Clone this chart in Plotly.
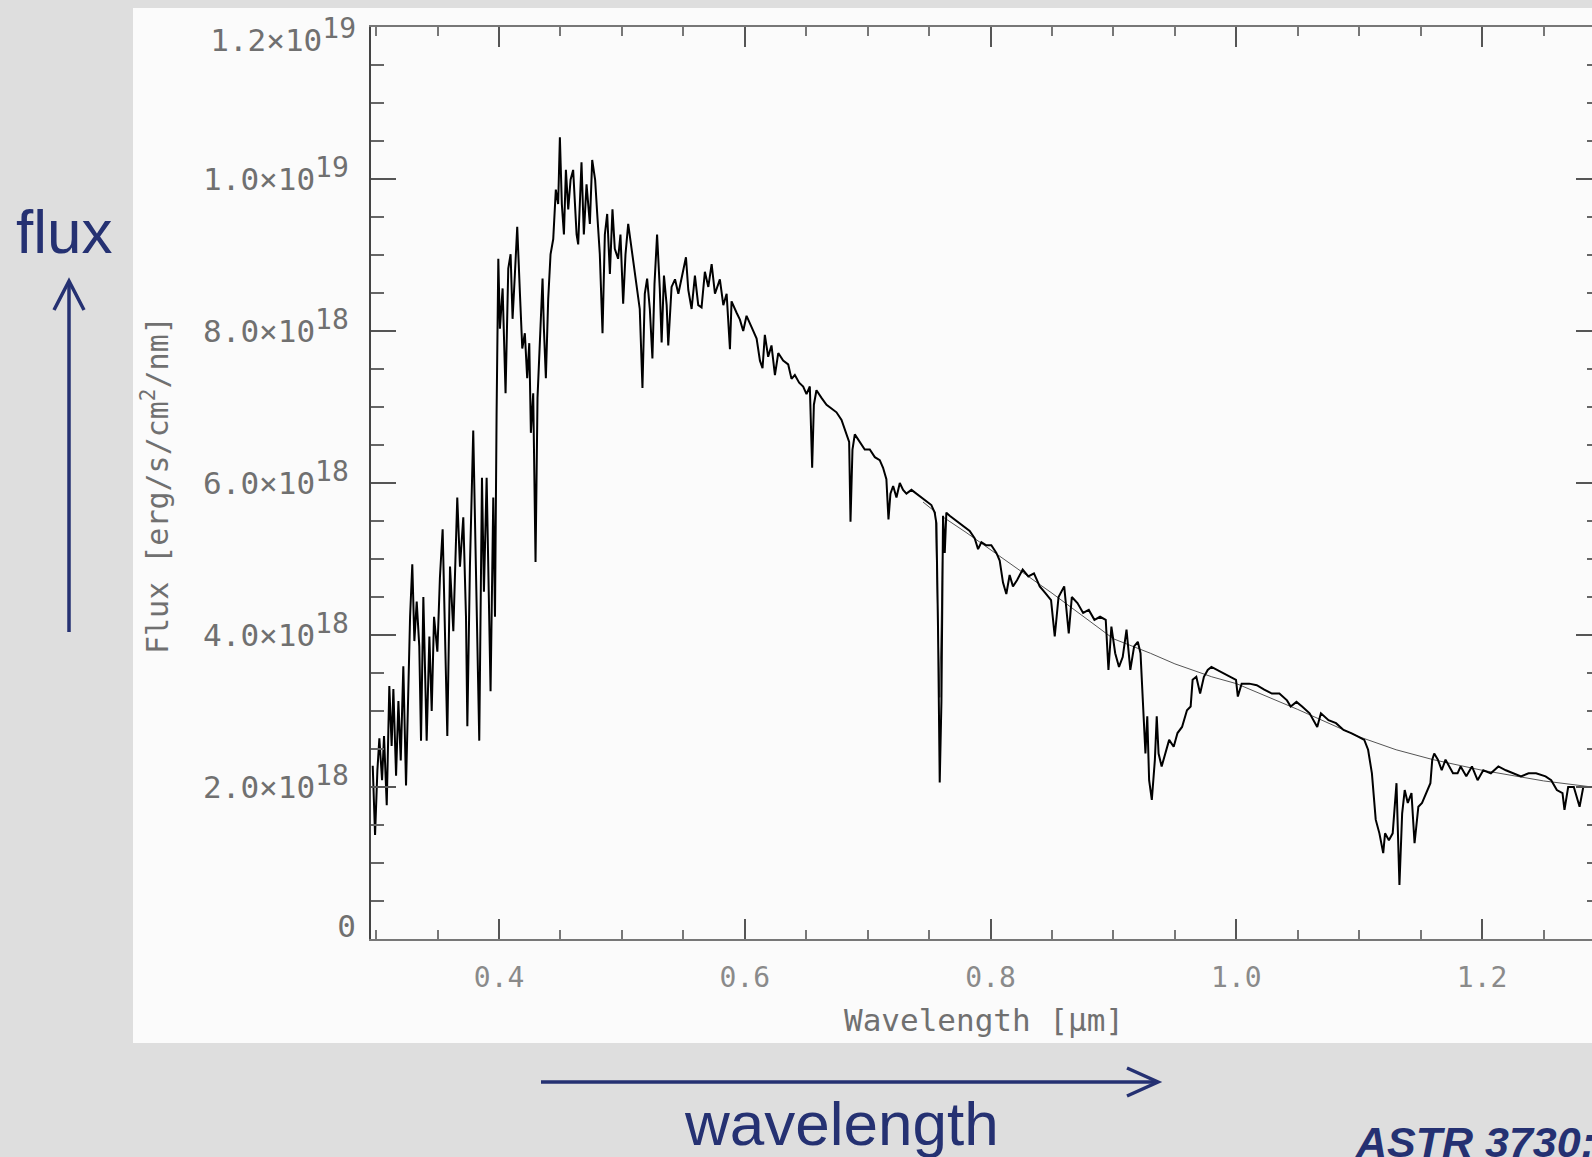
import plotly.graph_objects as go

# ---------------- data ----------------
wavelength_um = [
    0.2972, 0.2991, 0.3010, 0.3026, 0.3048, 0.3064, 0.3086, 0.3107, 0.3126, 0.3140,
    0.3162, 0.3181, 0.3200, 0.3221, 0.3243, 0.3262, 0.3276, 0.3294, 0.3311, 0.3330,
    0.3351, 0.3365, 0.3384, 0.3411, 0.3433, 0.3452, 0.3471, 0.3498, 0.3519, 0.3541,
    0.3560, 0.3579, 0.3601, 0.3628, 0.3660, 0.3682, 0.3709, 0.3731, 0.3742, 0.3763,
    0.3790, 0.3818, 0.3839, 0.3861, 0.3877, 0.3899, 0.3912, 0.3931, 0.3953, 0.3967,
    0.3980, 0.3994, 0.4007, 0.4029, 0.4053, 0.4075, 0.4094, 0.4110, 0.4129, 0.4148,
    0.4170, 0.4189, 0.4210, 0.4229, 0.4246, 0.4259, 0.4278, 0.4297, 0.4313, 0.4332,
    0.4354, 0.4365, 0.4381, 0.4400, 0.4419, 0.4441, 0.4462, 0.4481, 0.4495, 0.4511,
    0.4528, 0.4544, 0.4563, 0.4582, 0.4603, 0.4631, 0.4644, 0.4671, 0.4690, 0.4712,
    0.4739, 0.4758, 0.4782, 0.4799, 0.4820, 0.4842, 0.4861, 0.4880, 0.4902, 0.4923,
    0.4942, 0.4969, 0.4988, 0.5010, 0.5029, 0.5051, 0.5078, 0.5105, 0.5124, 0.5145,
    0.5167, 0.5186, 0.5205, 0.5227, 0.5248, 0.5265, 0.5286, 0.5308,
    0.5323, 0.5342, 0.5364, 0.5377, 0.5404, 0.5432, 0.5459, 0.5486, 0.5521, 0.5540,
    0.5567, 0.5594, 0.5621, 0.5648, 0.5675, 0.5703, 0.5730, 0.5757, 0.5797, 0.5825,
    0.5852, 0.5879, 0.5892, 0.5933, 0.5960, 0.5987, 0.6014, 0.6055, 0.6096, 0.6123,
    0.6144, 0.6163, 0.6190, 0.6217, 0.6245, 0.6272, 0.6312, 0.6353, 0.6380, 0.6407,
    0.6442, 0.6475, 0.6502, 0.6529, 0.6548, 0.6562, 0.6583, 0.6624, 0.6665, 0.6705,
    0.6746, 0.6787, 0.6827, 0.6849, 0.6860, 0.6876, 0.6895, 0.6936, 0.6976, 0.7017,
    0.7058, 0.7098, 0.7125, 0.7152, 0.7169, 0.7185, 0.7207, 0.7234, 0.7261, 0.7288,
    0.7315, 0.7356, 0.7396, 0.7437, 0.7478, 0.7518, 0.7545, 0.7559, 0.7572, 0.7586,
    0.7600, 0.7613, 0.7627, 0.7640, 0.7667, 0.7708, 0.7749, 0.7789, 0.7830, 0.7871,
    0.7898, 0.7925, 0.7965, 0.8006, 0.8047, 0.8074, 0.8101, 0.8128, 0.8155, 0.8182,
    0.8215, 0.8261, 0.8307, 0.8353, 0.8400, 0.8446, 0.8492, 0.8522, 0.8553, 0.8599,
    0.8636, 0.8661, 0.8707, 0.8753, 0.8799, 0.8845, 0.8891, 0.8937, 0.8959, 0.8983,
    0.9014, 0.9045, 0.9075, 0.9106, 0.9137, 0.9168, 0.9198, 0.9220, 0.9244, 0.9260,
    0.9275, 0.9290, 0.9312, 0.9337, 0.9352, 0.9367, 0.9392, 0.9422, 0.9453, 0.9490,
    0.9521, 0.9558, 0.9598, 0.9628, 0.9644, 0.9674, 0.9705, 0.9736, 0.9767, 0.9797,
    0.9843, 0.9889, 0.9951, 0.9997, 1.0012, 1.0043, 1.0105, 1.0166, 1.0227, 1.0289,
    1.0350, 1.0412, 1.0442, 1.0489, 1.0535, 1.0596, 1.0658, 1.0688, 1.0750, 1.0811,
    1.0872, 1.0934, 1.0995, 1.1041, 1.1072, 1.1103, 1.1134, 1.1164, 1.1195, 1.1210,
    1.1241, 1.1272, 1.1303, 1.1327, 1.1349, 1.1370, 1.1395, 1.1425, 1.1450, 1.1481,
    1.1511, 1.1542, 1.1579, 1.1594, 1.1610, 1.1640, 1.1671, 1.1702, 1.1733, 1.1763,
    1.1800, 1.1825, 1.1871, 1.1917, 1.1963, 1.2009, 1.2071, 1.2132, 1.2193, 1.2255,
    1.2316, 1.2378, 1.2439, 1.2516, 1.2562, 1.2608, 1.2654, 1.2670, 1.2700, 1.2746,
    1.2793, 1.2823, 1.2869, 1.2894,
]
flux_1e18 = [
    2.28, 1.37, 2.22, 2.64, 2.09, 2.67, 1.76, 3.33, 2.54, 3.29,
    2.15, 3.13, 2.35, 3.59, 2.02, 3.52, 4.24, 4.93, 3.92, 4.44,
    3.85, 2.61, 4.50, 2.61, 3.98, 3.00, 4.24, 3.78, 4.76, 5.39,
    3.85, 2.67, 4.90, 4.05, 5.81, 4.90, 5.55, 4.24, 2.80, 4.90,
    6.69, 4.24, 2.61, 6.07, 4.57, 6.07, 4.90, 3.26, 5.81, 4.24,
    6.92, 8.95, 8.03, 8.56, 7.18, 8.82, 9.01, 8.16, 8.75, 9.37,
    8.49, 7.77, 7.97, 7.38, 7.84, 6.66, 7.18, 4.96, 7.12, 7.90,
    8.69, 8.03, 7.38, 8.42, 9.01, 9.21, 9.86, 9.67, 10.55, 9.67,
    9.27, 10.12, 9.60, 9.99, 10.12, 9.27, 9.14, 10.22, 9.27, 9.93,
    9.41, 10.25, 9.99, 9.54, 9.01, 7.97, 9.27, 9.54, 8.75, 9.60,
    9.08, 8.95, 9.27, 8.36, 9.01, 9.41, 9.08, 8.82, 8.56, 8.29,
    7.25, 8.49, 8.69, 8.29, 7.64, 8.62, 9.27, 8.56,
    7.85, 8.73, 8.34, 7.81, 8.58, 8.68, 8.49, 8.68, 8.97, 8.54,
    8.29, 8.73, 8.34, 8.31, 8.78, 8.58, 8.88, 8.49, 8.68, 8.34,
    8.49, 7.76, 8.39, 8.24, 8.15, 8.00, 8.20, 8.05, 7.90, 7.61,
    7.51, 7.95, 7.66, 7.81, 7.42, 7.71, 7.61, 7.56, 7.37, 7.42,
    7.32, 7.27, 7.17, 7.27, 6.20, 7.03, 7.22, 7.12, 7.03, 6.98,
    6.93, 6.83, 6.64, 6.54, 5.49, 6.44, 6.64, 6.54, 6.44, 6.44,
    6.34, 6.30, 6.20, 6.05, 5.52, 5.86, 5.96, 5.81, 6.00, 5.91,
    5.86, 5.91, 5.86, 5.81, 5.76, 5.71, 5.61, 5.47, 4.11, 2.06,
    3.13, 5.57, 5.08, 5.61, 5.57, 5.52, 5.47, 5.42, 5.37, 5.27,
    5.13, 5.22, 5.18, 5.18, 5.08, 4.98, 4.69, 4.54, 4.79, 4.64,
    4.72, 4.86, 4.77, 4.81, 4.64, 4.55, 4.46, 3.98, 4.50, 4.64,
    4.02, 4.50, 4.42, 4.29, 4.33, 4.20, 4.24, 4.20, 3.54, 4.11,
    3.76, 3.58, 3.71, 4.07, 3.54, 3.85, 3.91, 3.76, 2.97, 2.44,
    2.93, 2.09, 1.83, 2.36, 2.93, 2.44, 2.27, 2.44, 2.62, 2.53,
    2.71, 2.79, 3.01, 3.06, 3.41, 3.45, 3.23, 3.45, 3.54, 3.58,
    3.54, 3.50, 3.45, 3.41, 3.19, 3.36, 3.36, 3.34, 3.28, 3.23,
    3.23, 3.14, 3.06, 3.12, 3.06, 2.97, 2.79, 2.97, 2.88, 2.84,
    2.75, 2.71, 2.66, 2.62, 2.49, 2.18, 1.57, 1.39, 1.13, 1.39,
    1.30, 1.39, 2.05, 0.71, 1.65, 1.96, 1.79, 1.92, 1.26, 1.74,
    1.79, 1.92, 2.05, 2.36, 2.44, 2.36, 2.22, 2.36, 2.27, 2.18,
    2.18, 2.27, 2.14, 2.27, 2.09, 2.22, 2.18, 2.27, 2.22, 2.18,
    2.14, 2.18, 2.18, 2.14, 2.09, 1.96, 1.92, 1.70, 2.00, 2.00,
    1.74, 2.00, 2.00, 2.00,
]
# thin second spectrum bridging the telluric bands
model_wavelength_um = [0.745, 0.755, 0.7586, 0.7615, 0.78, 0.80, 0.85, 0.90, 0.93,
                       0.95, 0.98, 1.00, 1.05, 1.10, 1.13, 1.16, 1.20, 1.25, 1.2894]
model_flux_1e18 = [5.75, 5.62, 3.18, 5.55, 5.35, 5.12, 4.55, 3.95, 3.76,
                   3.62, 3.45, 3.36, 3.02, 2.66, 2.49, 2.36, 2.22, 2.08, 2.00]

x_tick_vals = [0.4, 0.6, 0.8, 1.0, 1.2]
x_tick_text = ["0.4", "0.6", "0.8", "1.0", "1.2"]
y_major_vals_1e18 = [0, 2, 4, 6, 8, 10, 12]
SUP = "<sup><span style='font-size:28px'>{}</span></sup>"
y_tick_text = ["2.0×10" + SUP.format(18), "4.0×10" + SUP.format(18),
               "6.0×10" + SUP.format(18), "8.0×10" + SUP.format(18),
               "1.0×10" + SUP.format(19)]
y_top_label = "1.2×10" + SUP.format(19)
y_zero_label = "0"
x_title = "Wavelength [μm]"
y_title = "Flux [erg/s/cm<sup>2</sup>/nm]"

SCALE = 1e18
X_RANGE = [0.2958, 1.2894]
Y_RANGE = [0, 12 * SCALE]

# ---------------- layout geometry (pixels) ----------------
W, H = 1592, 1157
PL, PR, PT, PB = 371, 1592, 27, 939
PX_PER_1E18 = (PB - PT) / 12.0


def fx(p):
    return (p - PL) / (PR - PL)


def fy(p):
    return (PB - p) / (PB - PT)


NAVY = "#253172"
TICKC = "#707070"
FONT = "Liberation Sans, Arial, sans-serif"
MONO = "DejaVu Sans Mono, monospace"

fig = go.Figure()
fig.add_trace(go.Scatter(
    x=model_wavelength_um, y=[v * SCALE for v in model_flux_1e18],
    mode="lines", line=dict(color="#555555", width=1), hoverinfo="skip",
    showlegend=False))
fig.add_trace(go.Scatter(
    x=wavelength_um, y=[v * SCALE for v in flux_1e18],
    mode="lines", line=dict(color="black", width=2),
    showlegend=False))

axis_common = dict(showgrid=False, zeroline=False, automargin=False)

# label positions: the top label sits 13 px below its tick, the "0" 13 px above
top_label_pos = (12 - 13 / PX_PER_1E18) * SCALE
zero_label_pos = (13 / PX_PER_1E18) * SCALE

fig.update_layout(
    width=W, height=H,
    margin=dict(l=PL, r=W - PR, t=PT, b=H - PB, pad=0),
    paper_bgcolor="#dedede",
    plot_bgcolor="#fbfbfb",
    showlegend=False,
    font=dict(family=MONO, color=TICKC),
    xaxis=dict(
        **axis_common, range=X_RANGE,
        tickmode="array", tickvals=x_tick_vals, ticktext=x_tick_text,
        ticks="inside", ticklen=20, tickwidth=2, tickcolor="#555555",
        minor=dict(tickmode="linear", tick0=0, dtick=0.05, ticks="inside",
                   ticklen=9, tickwidth=2, tickcolor="#777777"),
        showline=True, linecolor="#777777", linewidth=2, mirror="ticks",
        tickfont=dict(size=28, color="#8a8a8a", family=MONO),
        ticklabelstandoff=12,
    ),
    yaxis=dict(
        **axis_common, range=Y_RANGE,
        tickmode="array", tickvals=[v * SCALE for v in y_major_vals_1e18],
        ticktext=[""] + y_tick_text + [""],
        ticks="inside", ticklen=25, tickwidth=2, tickcolor="#555555",
        minor=dict(tickmode="linear", tick0=0, dtick=0.5 * SCALE, ticks="inside",
                   ticklen=13, tickwidth=2, tickcolor="#666666"),
        showline=True, linecolor="#444444", linewidth=2, mirror=False,
        tickfont=dict(size=31, color=TICKC, family=MONO),
        ticklabelstandoff=14,
    ),
    yaxis2=dict(
        **axis_common, range=Y_RANGE, overlaying="y", side="right", anchor="x",
        tickmode="array", tickvals=[v * SCALE for v in y_major_vals_1e18],
        showticklabels=False,
        ticks="inside", ticklen=16, tickwidth=2, tickcolor="#555555",
        minor=dict(tickmode="linear", tick0=0, dtick=0.5 * SCALE, ticks="inside",
                   ticklen=5, tickwidth=2, tickcolor="#666666"),
        showline=False,
    ),
    yaxis3=dict(
        **axis_common, range=Y_RANGE, overlaying="y", side="left", anchor="x",
        tickmode="array", tickvals=[top_label_pos, zero_label_pos],
        ticktext=[y_top_label, y_zero_label], ticks="", showline=False,
        tickfont=dict(size=31, color=TICKC, family=MONO),
        ticklabelstandoff=14,
    ),
)

# invisible traces so the overlay axes are drawn
for ax in ["y2", "y3"]:
    fig.add_trace(go.Scatter(x=[None], y=[None], yaxis=ax, showlegend=False,
                             hoverinfo="skip"))

shapes = [
    # white slide panel behind the chart
    dict(type="rect", xref="paper", yref="paper", layer="below",
         x0=fx(133), x1=fx(1600), y0=fy(1043), y1=fy(8),
         fillcolor="#fbfbfb", line=dict(width=0)),
    # vertical "flux" arrow
    dict(type="line", xref="paper", yref="paper",
         x0=fx(69), x1=fx(69), y0=fy(632), y1=fy(283),
         line=dict(color=NAVY, width=3.5)),
    dict(type="path", xref="paper", yref="paper",
         path=f"M {fx(54)},{fy(310)} L {fx(69)},{fy(281)} L {fx(84)},{fy(310)}",
         line=dict(color=NAVY, width=3.5)),
    # horizontal "wavelength" arrow
    dict(type="line", xref="paper", yref="paper",
         x0=fx(541), x1=fx(1156), y0=fy(1082), y1=fy(1082),
         line=dict(color=NAVY, width=3.5)),
    dict(type="path", xref="paper", yref="paper",
         path=f"M {fx(1127)},{fy(1068)} L {fx(1158)},{fy(1082)} L {fx(1127)},{fy(1096)}",
         line=dict(color=NAVY, width=3.5)),
]
fig.update_layout(shapes=shapes)

annotations = [
    # axis titles
    dict(text=x_title, xref="paper", yref="paper", x=fx(984), y=fy(1020),
         xanchor="center", yanchor="middle", showarrow=False,
         font=dict(size=31, color="#707070", family=MONO)),
    dict(text=y_title, xref="paper", yref="paper", x=fx(155), y=fy(485),
         xanchor="center", yanchor="middle", showarrow=False, textangle=-90,
         font=dict(size=30, color="#707070", family=MONO)),
    # slide texts
    dict(text="flux", xref="paper", yref="paper", x=fx(64), y=fy(231),
         xanchor="center", yanchor="middle", showarrow=False,
         font=dict(size=62, color=NAVY, family=FONT)),
    dict(text="wavelength", xref="paper", yref="paper", x=fx(841), y=fy(1123),
         xanchor="center", yanchor="middle", showarrow=False,
         font=dict(size=62, color=NAVY, family=FONT)),
    dict(text="<b><i>ASTR 3730:</i></b>", xref="paper", yref="paper",
         x=fx(1353), y=fy(1142), xanchor="left", yanchor="middle", showarrow=False,
         font=dict(size=43, color=NAVY, family=FONT)),
]
fig.update_layout(annotations=annotations)

fig.write_html(
    "out.html",
    config={"displayModeBar": False},
    post_script="document.body.style.margin='0px';"
                "document.body.style.background='#dedede';"
                "document.body.style.overflow='hidden';",
)
